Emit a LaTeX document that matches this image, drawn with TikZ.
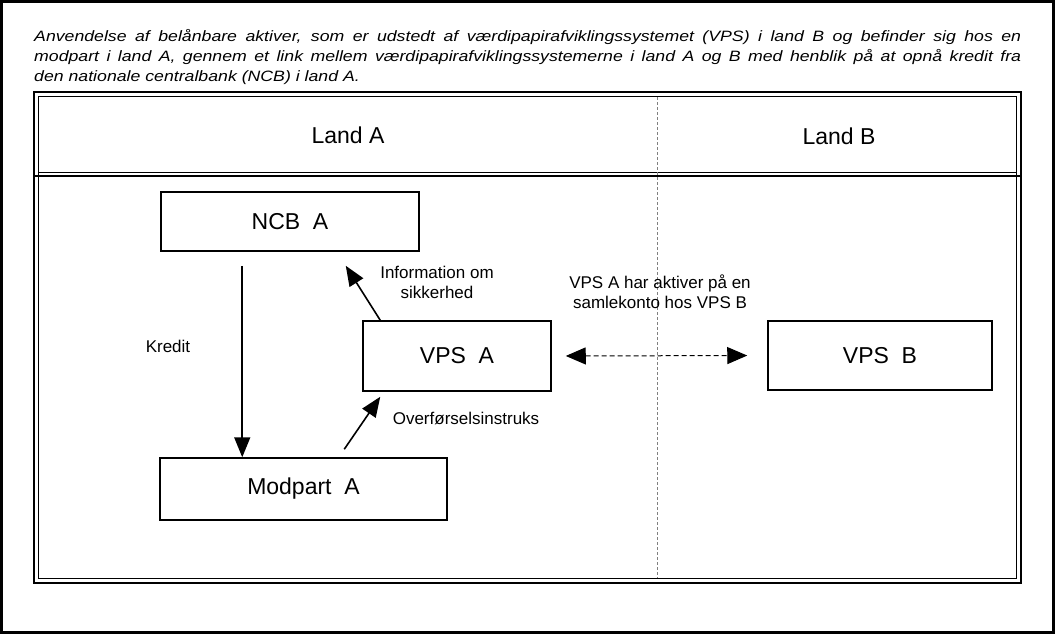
\documentclass[tikz,border=0pt]{standalone}
\usepackage{fontspec}
\setmainfont{Liberation Sans}
\newfontfamily\titlefont[FakeStretch=1.18]{Liberation Sans}
\usetikzlibrary{arrows.meta, positioning}
\tikzstyle{block} = [rectangle, draw=black, line width=1.5pt, text centered, font=\fontsize{23}{26}\selectfont]
\tikzstyle{head} = [font=\fontsize{23}{26}\selectfont]
\tikzstyle{note} = [align=center, font=\fontsize{17}{20}\selectfont]
\tikzstyle{arrow} = [line width=1.6pt, -{Triangle[length=20pt,width=16pt]}]
\tikzstyle{linkarrow} = [line width=1pt, dash pattern=on 5pt off 3pt, {Triangle[length=20pt,width=17pt]}-{Triangle[length=20pt,width=17pt]}]

\begin{document}
\begin{tikzpicture}[x=1pt, y=-1pt]
\useasboundingbox (0,0) rectangle (1055,634);
\draw [line width=3pt] (1.5,1.5) rectangle (1053.5,632.5);

\node (title) [anchor=north west, text width=987pt, align=justify, inner sep=0pt, font=\titlefont\itshape\fontsize{15}{20}\selectfont] at (34,29.5) {Anvendelse af belånbare aktiver, som er udstedt af værdipapirafviklingssystemet (VPS) i land B og befinder sig hos en\linebreak modpart i land A, gennem et link mellem værdipapirafviklingssystemerne i land A og B med henblik på at opnå kredit fra\linebreak den nationale centralbank (NCB) i land A.};

% table frame
\draw [line width=2.5pt] (34,92) rectangle (1021,583);
\draw [line width=0.8pt] (38.5,96.5) rectangle (1016.5,578.5);
\draw [line width=0.8pt] (38.5,172) -- (1016.5,172);
\draw [line width=2.5pt] (34,176) -- (1021,176);
\draw [gray, line width=0.8pt, dash pattern=on 3pt off 2pt] (657,97) -- (657,578);

\node (landa) [head] at (348,135) {Land A};
\node (landb) [head] at (839,136) {Land B};

\node (ncba) [block, minimum width=258pt, minimum height=59pt] at (290,221.5) {NCB\ \ A};
\node (vpsa) [block, minimum width=188pt, minimum height=70pt] at (457,356) {VPS\ \ A};
\node (modpart) [block, minimum width=287pt, minimum height=62pt] at (303.5,489) {Modpart\ \ A};
\node (vpsb) [block, minimum width=224pt, minimum height=69pt] at (880,355.5) {VPS\ \ B};

\node (kredit) [note] at (168,346) {Kredit};
\node (info) [note] at (437,282) {Information om\\sikkerhed};
\node (overf) [note] at (466,418) {Overførselsinstruks};
\node (samle) [note] at (660,292) {VPS A har aktiver på en\\samlekonto hos VPS B};

\draw [arrow, shorten <=14pt] ([xshift=82pt]ncba.south west) -- ([xshift=83pt]modpart.north west);
\draw [arrow] ([xshift=18pt]vpsa.north west) -- ([xshift=-74pt,yshift=-14pt]ncba.south east);
\draw [arrow] ([xshift=185pt,yshift=8pt]modpart.north west) -- ([xshift=18pt,yshift=-5pt]vpsa.south west);
\draw [linkarrow, shorten <=14pt, shorten >=20pt] (vpsa.east) -- (vpsb.west);
\end{tikzpicture}
\end{document}
